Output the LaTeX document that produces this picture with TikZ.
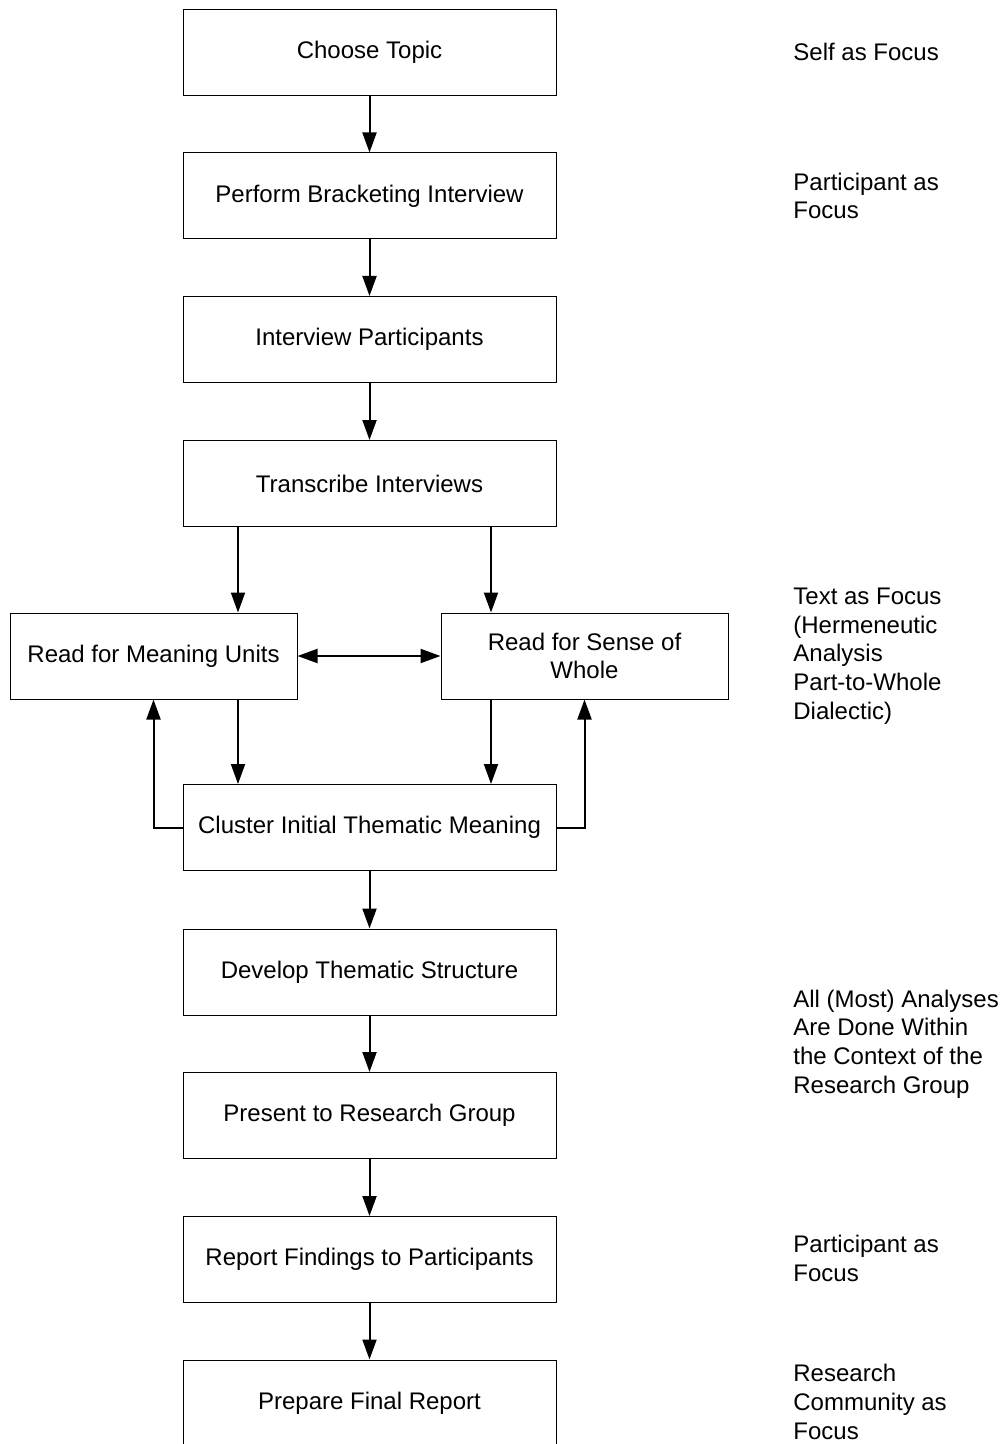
\documentclass[tikz,border=0pt]{standalone}
\usepackage{fontspec}
\setmainfont{Liberation Sans}
\usetikzlibrary{arrows.meta}
\begin{document}
\begin{tikzpicture}[x=0.5pt,y=-0.5pt,
  font=\fontsize{12}{14.35}\selectfont,
  box/.style={draw, line width=0.5pt, minimum width=186.5pt, minimum height=43pt, inner sep=0pt, align=center},
  rbox/.style={box, minimum width=143.5pt},
  arr/.style={line width=1pt, -{Triangle[length=10pt,width=7pt]}},
  darr/.style={line width=1pt, {Triangle[length=10pt,width=7pt]}-{Triangle[length=10pt,width=7pt]}},
  side/.style={anchor=west, align=left, inner sep=0pt}]
\useasboundingbox (0,0) rectangle (1006,1444);
\node[box] (choose) at (369.5,52.5) {Choose Topic};
\node[box] (perform) at (369.5,196) {Perform Bracketing Interview};
\node[box] (interview) at (369.5,339.5) {Interview Participants};
\node[box] (transcribe) at (369.5,483.5) {Transcribe Interviews};
\node[rbox] (readm) at (153.5,656) {Read for Meaning Units};
\node[rbox] (reads) at (584.5,656) {Read for Sense of\\Whole};
\node[box] (cluster) at (369.5,827.5) {Cluster Initial Thematic Meaning};
\node[box] (develop) at (369.5,972) {Develop Thematic Structure};
\node[box] (present) at (369.5,1115.5) {Present to Research Group};
\node[box] (report) at (369.5,1259.5) {Report Findings to Participants};
\node[box] (prepare) at (369.5,1403) {Prepare Final Report};
% side labels
\node[side] (l1) at (793,52) {Self as Focus};
\node[side] (l2) at (793,196) {Participant as\\Focus};
\node[side] (l3) at (793,656) {Text as Focus\\(Hermeneutic\\Analysis\\Part-to-Whole\\Dialectic)};
\node[side] (l4) at (793,1044) {All (Most) Analyses\\Are Done Within\\the Context of the\\Research Group};
\node[side] (l5) at (793,1258.5) {Participant as\\Focus};
\node[side] (l6) at (793,1402) {Research\\Community as\\Focus};
% connectors
\draw[arr] (choose) -- (perform);
\draw[arr] (perform) -- (interview);
\draw[arr] (interview) -- (transcribe);
\coordinate (tl) at ([xshift=-65.75pt]transcribe.south);
\coordinate (tr) at ([xshift=60.75pt]transcribe.south);
\draw[arr] (tl) -- (tl |- readm.north);
\draw[arr] (tr) -- (tr |- reads.north);
\draw[darr] (readm) -- (reads);
\draw[arr] (tl |- readm.south) -- (tl |- cluster.north);
\draw[arr] (tr |- reads.south) -- (tr |- cluster.north);
\draw[arr] (cluster.west) -| (readm.south);
\draw[arr] (cluster.east) -| (reads.south);
\draw[arr] (cluster) -- (develop);
\draw[arr] (develop) -- (present);
\draw[arr] (present) -- (report);
\draw[arr] (report) -- (prepare);
\end{tikzpicture}
\end{document}
